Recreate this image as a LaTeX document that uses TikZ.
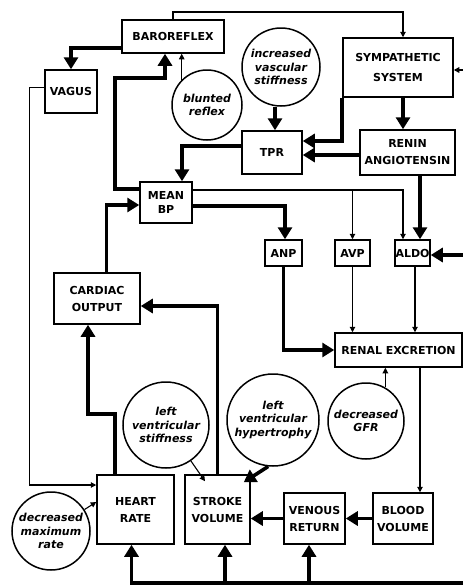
\documentclass[tikz,border=0pt]{standalone}
\usepackage{fontspec}
\setmainfont{DejaVu Sans}
\usetikzlibrary{arrows.meta}

\begin{document}
\begin{tikzpicture}[x=1pt,y=-1pt,
  box/.style={draw,line width=1.5pt,inner sep=0pt,align=center,
    font=\fontsize{11}{17}\selectfont\bfseries},
  bubble/.style={circle,draw,line width=1.5pt,inner sep=0pt,align=center,
    font=\fontsize{11}{13.5}\selectfont\bfseries\itshape},
  big/.style={line width=3.6pt,-{Triangle[length=12pt,width=14pt]}},
  small/.style={line width=1.1pt,-{Triangle[length=5.5pt,width=5.5pt]}}]
\useasboundingbox (0,0) rectangle (463,587);
% boxes
\node[box,minimum width=102pt,minimum height=33pt] (baro) at (173,36.5) {BAROREFLEX};
\node[box,minimum width=52pt,minimum height=43pt] (vagus) at (71,91.5) {VAGUS};
\node[box,minimum width=110pt,minimum height=59pt,
  font=\fontsize{11}{20}\selectfont\bfseries] (symp) at (398,67.5) {SYMPATHETIC\\SYSTEM};
\node[box,minimum width=60pt,minimum height=43pt] (tpr) at (272,152.5) {TPR};
\node[box,minimum width=95pt,minimum height=45pt] (renin) at (407.5,152.5) {RENIN\\ANGIOTENSIN};
\node[box,minimum width=52pt,minimum height=41pt,
  font=\fontsize{11}{14}\selectfont\bfseries] (mean) at (166,202.5) {MEAN\\BP};
\node[box,minimum width=86pt,minimum height=51pt] (cardiac) at (97,298.5) {CARDIAC\\OUTPUT};
\node[box,minimum width=37pt,minimum height=26pt] (anp) at (283.5,253) {ANP};
\node[box,minimum width=35pt,minimum height=26pt] (avp) at (352.5,253) {AVP};
\node[box,minimum width=35pt,minimum height=26pt] (aldo) at (412.5,253) {ALDO};
\node[box,minimum width=127pt,minimum height=34pt] (renal) at (398.5,350) {RENAL EXCRETION};
\node[box,minimum width=77pt,minimum height=69pt] (hr) at (135.5,509.5) {HEART\\RATE};
\node[box,minimum width=65pt,minimum height=69pt] (sv) at (217.5,509.5) {STROKE\\VOLUME};
\node[box,minimum width=61pt,minimum height=51pt] (vr) at (314.5,518.5) {VENOUS\\RETURN};
\node[box,minimum width=60pt,minimum height=51pt] (bv) at (403,518.5) {BLOOD\\VOLUME};
% circles
\node[bubble,minimum size=70pt] (blunt) at (207,105) {blunted\\reflex};
\node[bubble,minimum size=78pt] (stiff) at (281,67) {increased\\vascular\\stiffness};
\node[bubble,minimum size=76pt] (gfr) at (366,421) {decreased\\GFR};
\node[bubble,minimum size=92pt] (lvh) at (273,420) {left\\ventricular\\hypertrophy};
\node[bubble,minimum size=86pt] (lvs) at (166,425) {left\\ventricular\\stiffness};
\node[bubble,minimum size=78pt] (dmr) at (51,531) {decreased\\maximum\\rate};
% baroreflex loop
\draw[small] (baro.north) |- (403,12) -- ([xshift=5pt]symp.north);
\draw[big] ([yshift=-11.5pt]baro.west) -| (vagus.north);
\draw[small] ([yshift=4pt]vagus.west) -- ++(-15,0) |- ([yshift=24.5pt]hr.west);
\draw[small] (dmr) -- ([yshift=7.5pt]hr.west);
\draw[big] ([yshift=13.5pt]mean.west) -| (115,78) -| ([xshift=-8pt]baro.south);
\draw[small] (blunt.north west) -- (blunt.north west |- baro.south);
% TPR
\draw[big] ([yshift=6.5pt]tpr.west) -| ([xshift=16pt]mean.north);
\draw[big] ([xshift=-6pt]stiff.south) -- ([xshift=3pt]tpr.north);
\draw[big] (symp.south west) |- ([yshift=11.5pt]tpr.east);
\draw[big] ([yshift=-2.5pt]renin.west) -- ([yshift=-2.5pt]tpr.east);
\draw[big] ([xshift=5pt]symp.south) -- ([xshift=-4.5pt]renin.north);
\draw[big] ([xshift=12.5pt]renin.south) -- ([xshift=7.5pt]aldo.north);
\coordinate (sympout) at (463,70);
\draw[small,line width=1.8pt] (sympout) -- ([yshift=-2.5pt]symp.east);
\coordinate (aldoin) at (463,255);
\draw[big] (aldoin) -- ([yshift=-2pt]aldo.east);
% hormones
\draw[big] ([yshift=-3.5pt]mean.east) -| ([xshift=1.5pt]anp.north);
\draw[small] ([yshift=12.5pt]mean.east) -| ([xshift=-9.5pt]aldo.north);
\coordinate (split) at (352.5,190);
\draw[small] (split) -- (avp.north);
\draw[big] (anp.south) |- (renal.west);
\draw[small] (avp.south) -- (avp.south |- renal.north);
\draw[small] ([xshift=2.5pt]aldo.south) -- ([xshift=2.5pt]aldo.south |- renal.north);
\draw[small] (gfr.60) -- (gfr.60 |- renal.south);
\draw[small] ([xshift=21.5pt]renal.south) -- ([xshift=21.5pt]renal.south |- bv.north);
% heart
\draw[big] (bv.west) -- (vr.east);
\draw[big] (vr.west) -- (vr.west -| sv.east);
\draw[big] (sv.north) |- ([yshift=-7.5pt]cardiac.east);
\draw[big] ([xshift=-20.5pt]hr.north) -- ++(0,-60) -| ([xshift=-9pt]cardiac.south);
\draw[big] ([xshift=9.5pt]cardiac.north) |- ([yshift=-2.5pt]mean.west);
\draw[small] (lvs) -- ([xshift=-12.5pt,yshift=-7pt]sv.north);
\draw[big] (lvh.264) -- ([xshift=-7pt,yshift=-8pt]sv.north east);
% bottom feed
\coordinate (feed) at (463,583);
\draw[big] (feed) -| ([xshift=-4pt]hr.south);
\draw[big] ([xshift=7.5pt]sv.south |- feed) -- ([xshift=7.5pt]sv.south);
\draw[big] ([xshift=-5.5pt]vr.south |- feed) -- ([xshift=-5.5pt]vr.south);
\end{tikzpicture}
\end{document}
